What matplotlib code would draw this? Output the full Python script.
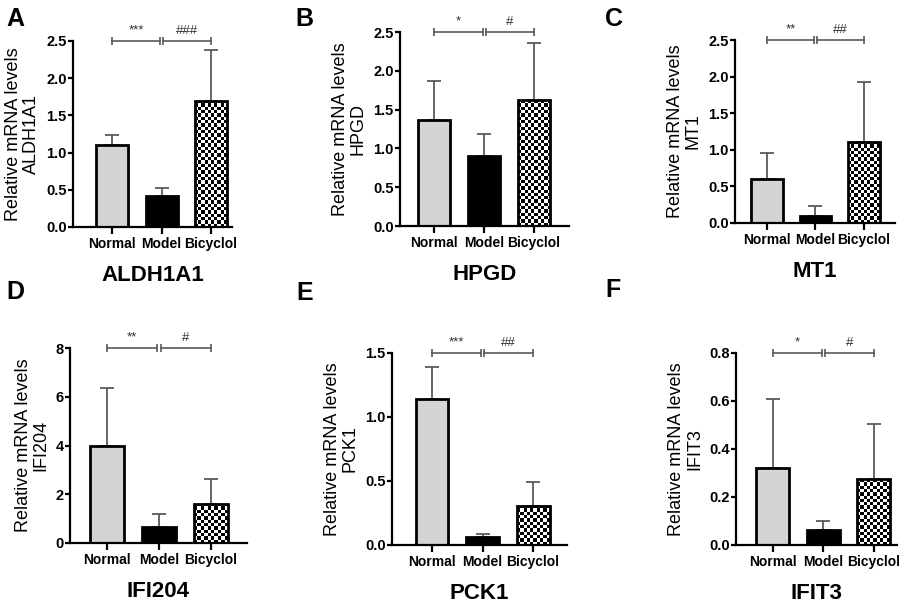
import numpy as np
import matplotlib
matplotlib.use("Agg")
import matplotlib.pyplot as plt

# ─── Datos ─────────────────────────────────────────────────────────
grupos = ["Normal", "Model", "Bicyclol"]
genes = ["ALDH1A1", "HPGD", "MT1", "IFI204", "PCK1", "IFIT3"]
letras = ["A", "B", "C", "D", "E", "F"]

media_aldh1a1 = [1.10, 0.41, 1.70]
err_aldh1a1 = [0.14, 0.11, 0.68]
media_hpgd = [1.37, 0.90, 1.62]
err_hpgd = [0.50, 0.29, 0.74]
media_mt1 = [0.60, 0.09, 1.11]
err_mt1 = [0.36, 0.145, 0.82]
media_ifi204 = [4.00, 0.64, 1.60]
err_ifi204 = [2.35, 0.55, 1.02]
media_pck1 = [1.14, 0.06, 0.305]
err_pck1 = [0.25, 0.024, 0.19]
media_ifit3 = [0.32, 0.062, 0.275]
err_ifit3 = [0.287, 0.038, 0.231]

ticks_aldh1a1 = [0.0, 0.5, 1.0, 1.5, 2.0, 2.5]
ticks_hpgd = [0.0, 0.5, 1.0, 1.5, 2.0, 2.5]
ticks_mt1 = [0.0, 0.5, 1.0, 1.5, 2.0, 2.5]
ticks_ifi204 = [0, 2, 4, 6, 8]
ticks_pck1 = [0.0, 0.5, 1.0, 1.5]
ticks_ifit3 = [0.0, 0.2, 0.4, 0.6, 0.8]

sig_normal_model = ["***", "*", "**", "**", "***", "*"]
sig_model_bicyclol = ["###", "#", "##", "#", "##", "#"]

medias = [media_aldh1a1, media_hpgd, media_mt1, media_ifi204, media_pck1, media_ifit3]
errores = [err_aldh1a1, err_hpgd, err_mt1, err_ifi204, err_pck1, err_ifit3]
ticks_y = [ticks_aldh1a1, ticks_hpgd, ticks_mt1, ticks_ifi204, ticks_pck1, ticks_ifit3]
formatos_y = ["{:.1f}", "{:.1f}", "{:.1f}", "{:.0f}", "{:.1f}", "{:.1f}"]

# ─── Layout (pixeles: izq, arriba, der, abajo) ─────────────────────
W, H = 913, 603
cajas = [
    (73, 41, 232, 227),
    (400, 32, 569, 226),
    (735, 40, 895, 223),
    (70, 348, 247, 543),
    (392, 353, 567, 545),
    (736, 353, 897, 545),
]
xlims = [(-0.80, 2.43), (-0.68, 2.70), (-0.66, 2.64),
         (-0.71, 2.69), (-0.79, 2.67), (-0.73, 2.46)]
pos_letras = [(6, 7), (295, 7), (605, 7), (6, 280), (296, 281), (605, 278)]

ANCHO = 0.65
GRIS_ERR = "#5a5a5a"

plt.rcParams["font.family"] = ["Liberation Sans", "DejaVu Sans"]

fig = plt.figure(figsize=(W / 100, H / 100), dpi=100)
fig.set_facecolor("white")

for i, gen in enumerate(genes):
    l, t, r, b = cajas[i]
    ax = fig.add_axes([l / W, 1 - b / H, (r - l) / W, (b - t) / H])
    x = np.arange(len(grupos))
    ymax = ticks_y[i][-1]
    ax.set_xlim(*xlims[i])
    ax.set_ylim(0, ymax)

    # Barras
    caras = ["#d4d4d4", "black", "none"]
    barras = ax.bar(x, medias[i], width=ANCHO, color=caras, edgecolor="black",
                    linewidth=2.0, zorder=2)

    # Patrón de tablero para Bicyclol
    bb = ax.get_window_extent()
    px_x = bb.width / (xlims[i][1] - xlims[i][0])
    px_y = bb.height / ymax
    p = barras[2]
    nx = max(1, int(round(p.get_width() * px_x / 3.3)))
    ny = max(1, int(round(p.get_height() * px_y / 3.3)))
    tablero = np.indices((ny, nx)).sum(axis=0) % 2
    img = ax.imshow(tablero, cmap="gray", interpolation="nearest", aspect="auto",
                    extent=(p.get_x(), p.get_x() + p.get_width(), 0, p.get_height()),
                    origin="lower", zorder=1)
    img.set_clip_path(p)
    ax.set_xlim(*xlims[i])
    ax.set_ylim(0, ymax)

    # Barras de error (solo hacia arriba)
    ax.errorbar(x, medias[i], yerr=[np.zeros(3), errores[i]], fmt="none",
                ecolor=GRIS_ERR, elinewidth=1.3, capsize=5, capthick=1.3, zorder=0.5)

    # Corchetes de significancia
    for x0, x1, txt in [(x[0], x[1] - 0.03, sig_normal_model[i]),
                        (x[1] + 0.03, x[2], sig_model_bicyclol[i])]:
        ax.plot([x0, x1], [ymax, ymax], color=GRIS_ERR, lw=1.2, marker="|",
                markersize=6, markeredgewidth=1.2, clip_on=False, zorder=3)
        ax.annotate(txt, xy=((x0 + x1) / 2, ymax), xytext=(0, 3),
                    textcoords="offset points", ha="center", va="bottom",
                    fontsize=9.5, color="#333333", annotation_clip=False)

    # Ejes
    for lado in ["top", "right"]:
        ax.spines[lado].set_visible(False)
    for lado in ["left", "bottom"]:
        ax.spines[lado].set_linewidth(1.6)
    ax.set_xticks(x)
    ax.set_xticklabels(grupos, fontsize=10, fontweight="bold")
    ax.set_yticks(ticks_y[i])
    ax.set_yticklabels([formatos_y[i].format(v) for v in ticks_y[i]],
                       fontsize=10.5, fontweight="bold")
    ax.tick_params(axis="y", direction="out", length=3.5, width=1.6, pad=1)
    ax.tick_params(axis="x", direction="out", length=5, width=1.6, pad=2)
    ax.set_ylabel(f"Relative mRNA levels\n{gen}", fontsize=13, linespacing=1.05,
                  labelpad=4.5)
    ax.set_xlabel(gen, fontsize=16, fontweight="bold", labelpad=10)

    lx, ly = pos_letras[i]
    fig.text(lx / W, 1 - ly / H, letras[i], fontsize=18, fontweight="bold",
             ha="left", va="top")

fig.savefig("out.png", dpi=100, facecolor="white")
